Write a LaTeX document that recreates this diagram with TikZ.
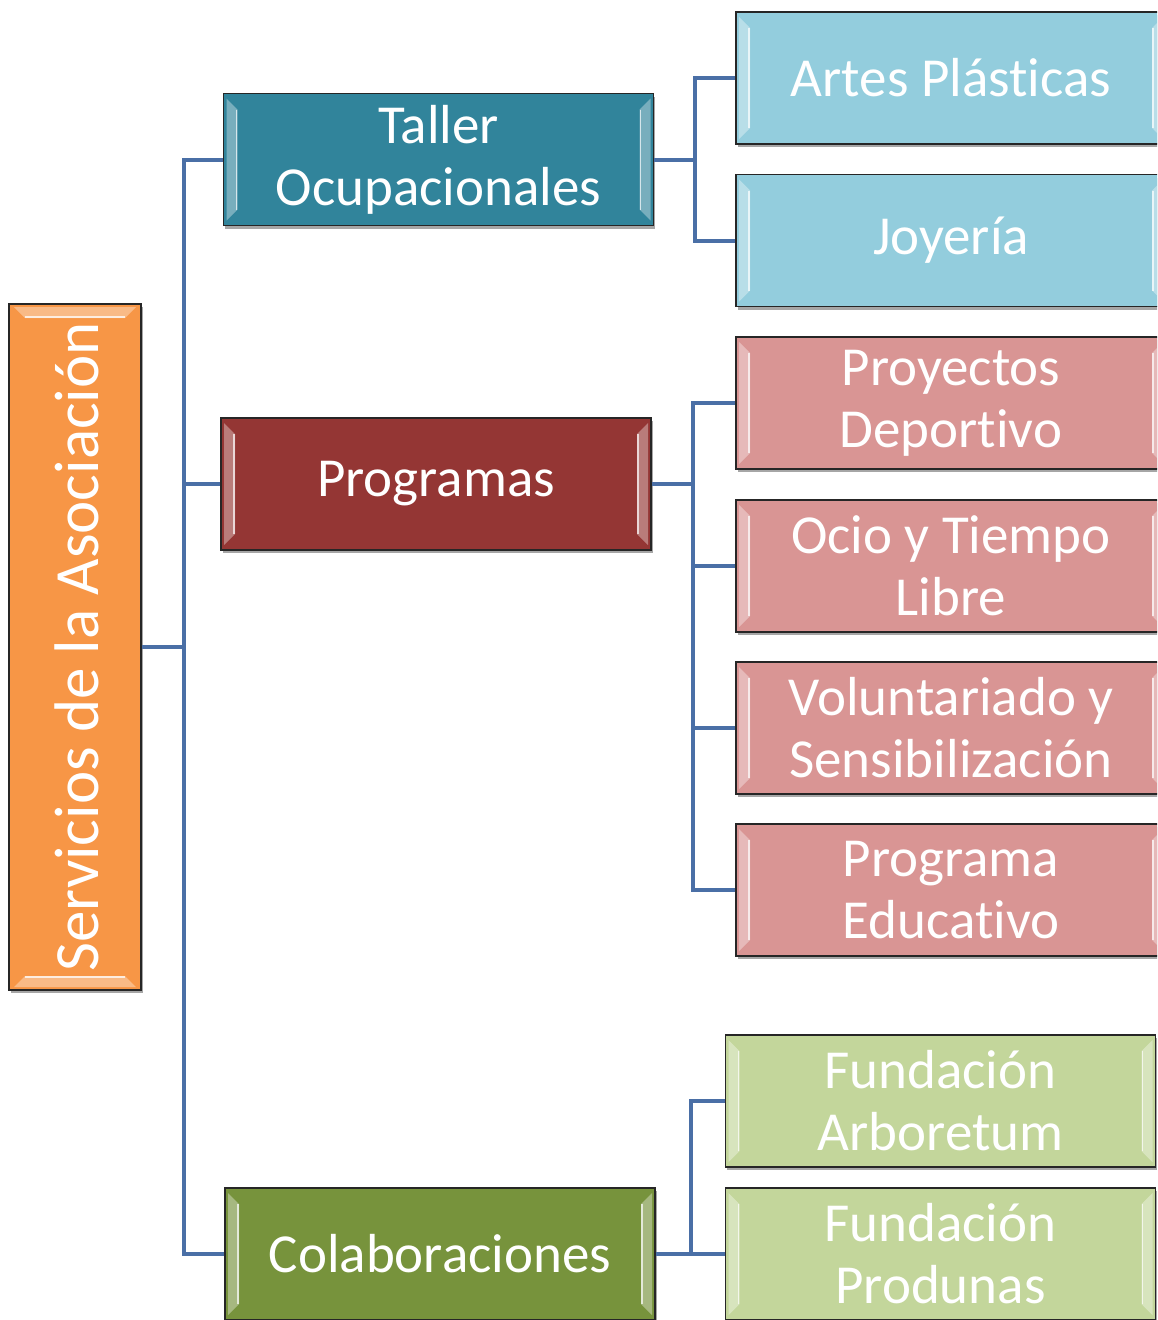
\documentclass[tikz,border=0pt]{standalone}
\usepackage{fontspec}
\setmainfont{Carlito}[Ligatures=CommonOff,Contextuals=AlternateOff]
\usetikzlibrary{shadows,calc}
\definecolor{connc}{HTML}{4A6FA6}
\definecolor{orangec}{HTML}{F79646}
\definecolor{tealc}{HTML}{31849B}
\definecolor{redc}{HTML}{943634}
\definecolor{olivec}{HTML}{77933C}
\definecolor{lbluec}{HTML}{93CDDD}
\definecolor{pinkc}{HTML}{D99594}
\definecolor{lgreenc}{HTML}{C3D69B}
\begin{document}
\begin{tikzpicture}[x=1pt,y=-1pt,
  box/.style={rectangle, draw=black!85, line width=1.6pt, text=white, align=center,
    inner sep=0pt, font=\fontsize{55}{62}\selectfont,
    drop shadow={shadow xshift=1.5pt, shadow yshift=-3pt, opacity=0.35, fill=black}},
  hbox/.style={box, minimum width=430pt, minimum height=132pt, hbevel},
  hbevel/.style={path picture={
    \fill[white,opacity=.35]
      ([shift={(3pt,-5pt)}]path picture bounding box.north west) --
      ([shift={(14pt,-16pt)}]path picture bounding box.north west) --
      ([shift={(14pt,16pt)}]path picture bounding box.south west) --
      ([shift={(3pt,5pt)}]path picture bounding box.south west) -- cycle;
    \draw[white,opacity=.7,line width=1.4pt]
      ([shift={(13pt,-16pt)}]path picture bounding box.north west) --
      ([shift={(13pt,16pt)}]path picture bounding box.south west);
    \fill[white,opacity=.35]
      ([shift={(-3pt,-5pt)}]path picture bounding box.north east) --
      ([shift={(-14pt,-16pt)}]path picture bounding box.north east) --
      ([shift={(-14pt,16pt)}]path picture bounding box.south east) --
      ([shift={(-3pt,5pt)}]path picture bounding box.south east) -- cycle;
    \draw[white,opacity=.7,line width=1.4pt]
      ([shift={(-13pt,-16pt)}]path picture bounding box.north east) --
      ([shift={(-13pt,16pt)}]path picture bounding box.south east);
  }},
  vbevel/.style={path picture={
    \fill[white,opacity=.35]
      ([shift={(5pt,-3pt)}]path picture bounding box.north west) --
      ([shift={(16pt,-14pt)}]path picture bounding box.north west) --
      ([shift={(-16pt,-14pt)}]path picture bounding box.north east) --
      ([shift={(-5pt,-3pt)}]path picture bounding box.north east) -- cycle;
    \draw[white,opacity=.75,line width=1.4pt]
      ([shift={(16pt,-13pt)}]path picture bounding box.north west) --
      ([shift={(-16pt,-13pt)}]path picture bounding box.north east);
    \fill[white,opacity=.35]
      ([shift={(5pt,3pt)}]path picture bounding box.south west) --
      ([shift={(16pt,14pt)}]path picture bounding box.south west) --
      ([shift={(-16pt,14pt)}]path picture bounding box.south east) --
      ([shift={(-5pt,3pt)}]path picture bounding box.south east) -- cycle;
    \draw[white,opacity=.75,line width=1.4pt]
      ([shift={(16pt,13pt)}]path picture bounding box.south west) --
      ([shift={(-16pt,13pt)}]path picture bounding box.south east);
  }},
  conn/.style={draw=connc, line width=4pt}
]
\useasboundingbox (0,0) rectangle (1157,1320);
\clip (0,0) rectangle (1157,1320);

\node[box, fill=orangec, minimum width=132pt, minimum height=686pt, vbevel] (root) at (75,647) {};
\node[rotate=90, text=white, font=\fontsize{63}{70}\selectfont] (roottext) at (77,647) {Servicios de la Asociación};

\node[hbox, fill=tealc] (taller) at (438.5,159.5) {Taller\\Ocupacionales};
\node[hbox, fill=redc] (prog) at (436,484) {Programas};
\node[hbox, fill=olivec] (colab) at (440,1254) {Colaboraciones};

\node[hbox, fill=lbluec] (artes) at (951,78) {Artes Plásticas};
\node[hbox, fill=lbluec] (joy) at (951,240.5) {Joyería};

\node[hbox, fill=pinkc] (proy) at (951,403) {Proyectos\\Deportivo};
\node[hbox, fill=pinkc] (ocio) at (951,566) {Ocio y Tiempo\\Libre};
\node[hbox, fill=pinkc] (vol) at (951,728) {Voluntariado y\\Sensibilización};
\node[hbox, fill=pinkc] (edu) at (951,890) {Programa\\Educativo};

\node[hbox, fill=lgreenc] (arb) at (940.5,1101) {Fundación\\Arboretum};
\node[hbox, fill=lgreenc] (prod) at (940.5,1254) {Fundación\\Produnas};

\draw[conn] (root.east) -- ++(42,0) |- (taller.west);
\draw[conn] (root.east) -- ++(42,0) |- (prog.west);
\draw[conn] (root.east) -- ++(42,0) |- (colab.west);

\draw[conn] (taller.east) -- ++(41,0) |- (artes.west);
\draw[conn] (taller.east) -- ++(41,0) |- (joy.west);

\draw[conn] (prog.east) -- ++(41,0) |- (proy.west);
\draw[conn] (prog.east) -- ++(41,0) |- (ocio.west);
\draw[conn] (prog.east) -- ++(41,0) |- (vol.west);
\draw[conn] (prog.east) -- ++(41,0) |- (edu.west);

\draw[conn] (colab.east) -- ++(35,0) |- (arb.west);
\draw[conn] (colab.east) -- ++(35,0) |- (prod.west);
\end{tikzpicture}
\end{document}
